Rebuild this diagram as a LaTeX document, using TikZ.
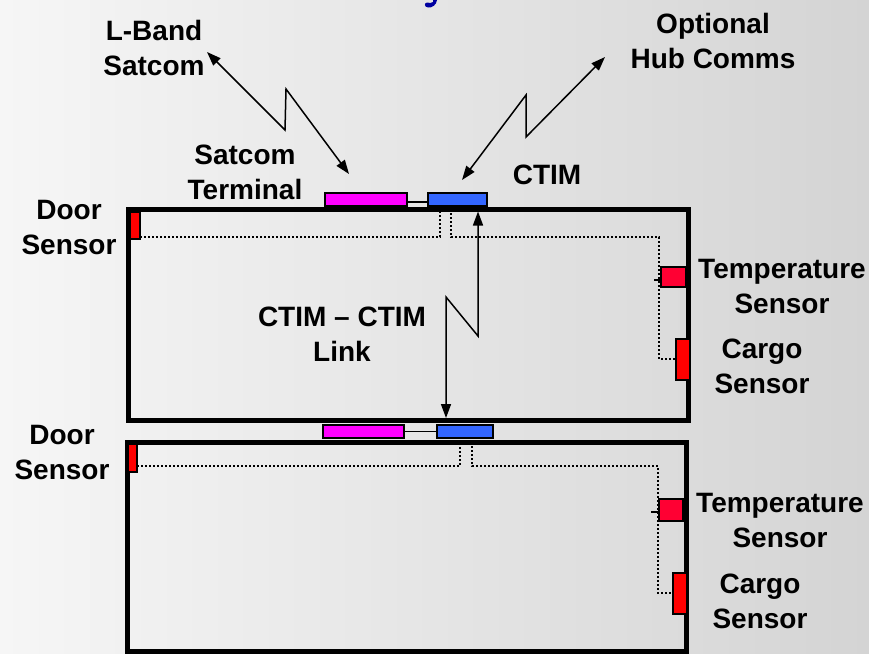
\documentclass[tikz,border=0pt]{standalone}
\usepackage{fontspec}
\setmainfont{Liberation Sans}
\usetikzlibrary{arrows.meta}
\definecolor{bgL}{RGB}{246,246,246}
\definecolor{bgR}{RGB}{212,212,212}
\definecolor{sred}{RGB}{255,0,0}
\definecolor{tred}{RGB}{255,0,51}
\definecolor{smag}{RGB}{255,0,255}
\definecolor{sblue}{RGB}{51,102,255}
\definecolor{tblue}{RGB}{0,0,160}
\tikzset{
  container/.style={draw=black,line width=5pt,miter limit=10,inner sep=0pt,outer sep=0pt},
  unit/.style={draw=black,line width=1.8pt,inner sep=0pt,outer sep=0pt},
  lbl/.style={font=\bfseries\fontsize{28}{35}\selectfont,align=center,inner sep=0pt,anchor=north},
  sig/.style={line width=1.5pt,dash pattern=on 2pt off 2pt},
  radio/.style={line width=1.5pt,{Triangle[length=14pt,width=10pt]}-{Triangle[length=14pt,width=10pt]}},
  tick/.style={line width=1.2pt}
}
\begin{document}
\begin{tikzpicture}[x=1pt,y=-1pt]
\shade[left color=bgL,right color=bgR] (0,0) rectangle (869,653);
\useasboundingbox (0,0) rectangle (869,653);
% fragment of title descender
\fill[tblue] (437,0) .. controls (436.5,5) and (432,8) .. (428,7.5) .. controls (424,7) and (424,3) .. (427,2.5) .. controls (430,2.5) and (431,4) .. (433,2) -- (433,0) -- cycle;

% containers
\node[container,minimum width=560pt,minimum height=211pt] (c1) at (408,314.5) {};
\node[container,minimum width=559pt,minimum height=209pt] (c2) at (406.5,546.5) {};

% top units
\node[unit,fill=smag,minimum width=82pt,minimum height=13pt] (st1) at (366,199.5) {};
\node[unit,fill=sblue,minimum width=59pt,minimum height=13pt] (ct1) at (457.5,199.5) {};
\node[unit,fill=smag,minimum width=81pt,minimum height=13pt] (st2) at (363.5,431.5) {};
\node[unit,fill=sblue,minimum width=56pt,minimum height=13pt] (ct2) at (465,431.5) {};
\draw[line width=1.2pt] ([yshift=-2.5pt]st1.east) -- ([yshift=-2.5pt]ct1.west);
\draw[line width=1.2pt] (st2.east) -- (ct2.west);

% sensors container 1
\node[unit,fill=sred,minimum width=10pt,minimum height=27pt] (ds1) at (135,225.5) {};
\node[unit,fill=tred,minimum width=25pt,minimum height=20pt] (ts1) at (673.5,277) {};
\node[unit,fill=sred,minimum width=14pt,minimum height=41pt] (cs1) at (683,359.5) {};
% sensors container 2
\node[unit,fill=sred,minimum width=9pt,minimum height=28pt] (ds2) at (132.5,458) {};
\node[unit,fill=tred,minimum width=24pt,minimum height=22pt] (ts2) at (671,510) {};
\node[unit,fill=sred,minimum width=14pt,minimum height=41pt] (cs2) at (680,593.5) {};

% wiring container 1
\coordinate (w1a) at (440,237);
\coordinate (w1b) at (451,237);
\coordinate (w1c) at (659,237);
\coordinate (w1d) at (659,359);
\draw[sig] (ds1.east |- w1a) -- (w1a) -- (w1a |- c1.north);
\draw[sig] (w1b |- c1.north) -- (w1b) -- (w1c) -- (w1d) -- (w1d -| cs1.west);
\draw[tick] ([xshift=-7pt,yshift=-3pt]ts1.west) -- ([yshift=-3pt]ts1.west);
% wiring container 2
\coordinate (w2a) at (460,466);
\coordinate (w2b) at (472,466);
\coordinate (w2c) at (658,466);
\coordinate (w2d) at (658,593);
\draw[sig] (ds2.east |- w2a) -- (w2a) -- (w2a |- c2.north);
\draw[sig] (w2b |- c2.north) -- (w2b) -- (w2c) -- (w2d) -- (w2d -| cs2.west);
\draw[tick] ([xshift=-8pt,yshift=-2pt]ts2.west) -- ([yshift=-2pt]ts2.west);

% labels
\node[lbl] (lband) at (154,20) {L-Band\\Satcom};
\node[lbl] (hub) at (713,13) {Optional\\Hub Comms};
\node[lbl] (stl) at (245,145) {Satcom\\Terminal};
\node[lbl] (ctl) at (547,165) {CTIM};
\node[lbl] (dl1) at (69,200) {Door\\Sensor};
\node[lbl] (dl2) at (62,425) {Door\\Sensor};
\node[lbl] (tl1) at (782,259) {Temperature\\Sensor};
\node[lbl] (cl1) at (762,339) {Cargo\\Sensor};
\node[lbl] (tl2) at (780,493) {Temperature\\Sensor};
\node[lbl] (cl2) at (760,574) {Cargo\\Sensor};
\node[lbl] (link) at (342,307) {CTIM -- CTIM\\Link};

% radio links
\coordinate (lbA) at (207,52);
\coordinate (lbB) at (349,174);
\draw[radio] (lbA) -- (285,130) -- (286,89) -- (lbB);
\coordinate (hbA) at (462,180);
\coordinate (hbB) at (605,57);
\draw[radio] (hbA) -- (526,95) -- (526,137) -- (hbB);
\coordinate (lkA) at (478,211.5);
\coordinate (lkB) at (446,418);
\draw[radio] (lkA) -- (478,336) -- (446,297) -- (lkB);
\end{tikzpicture}
\end{document}
